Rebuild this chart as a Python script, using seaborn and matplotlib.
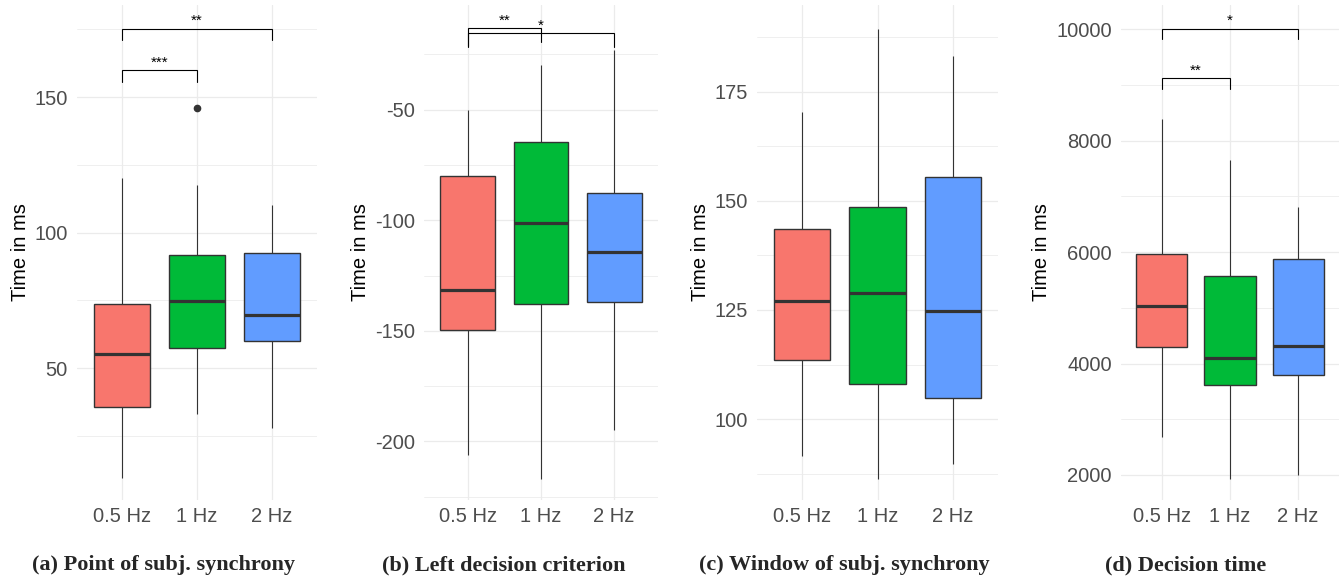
import numpy as np
import pandas as pd
import matplotlib
matplotlib.use("Agg")
import matplotlib.pyplot as plt
from matplotlib.ticker import MultipleLocator
import seaborn as sns

freqs = ["0.5 Hz", "1 Hz", "2 Hz"]
colors = ["#F8766D", "#00BA38", "#619CFF"]

# (a) point of subjective synchrony
pss_low = [9.4, 33.0, 27.9]
pss_q1 = [35.6, 57.4, 60.0]
pss_med = [55.2, 74.7, 69.6]
pss_q3 = [73.6, 91.7, 92.4]
pss_high = [120.0, 117.5, 110.0]
pss_out = [[], [146.0], []]

# (b) left decision criterion
ldc_low = [-206.0, -217.0, -194.7]
ldc_q1 = [-149.5, -138.0, -137.0]
ldc_med = [-131.4, -101.1, -114.6]
ldc_q3 = [-80.0, -64.7, -87.5]
ldc_high = [-50.0, -29.7, -23.0]
ldc_out = [[], [], []]

# (c) window of subjective synchrony
wss_low = [91.5, 86.4, 89.8]
wss_q1 = [113.5, 108.1, 104.8]
wss_med = [127.1, 128.9, 124.7]
wss_q3 = [143.6, 148.6, 155.4]
wss_high = [170.2, 189.4, 183.2]
wss_out = [[], [], []]

# (d) decision time
dt_low = [2682, 1930, 1996]
dt_q1 = [4291, 3619, 3799]
dt_med = [5041, 4092, 4316]
dt_q3 = [5968, 5573, 5873]
dt_high = [8386, 7655, 6804]
dt_out = [[], [], []]

# significance brackets: (group a, group b, bar y, tip y at a, tip y at b, label)
pss_sig = [(0, 1, 160.0, 155.5, 155.5, "***"), (0, 2, 175.3, 171.0, 171.0, "**")]
ldc_sig = [(0, 1, -13.3, -21.4, -19.4, "**"), (0, 2, -15.5, -21.9, -21.9, "*")]
wss_sig = []
dt_sig = [(0, 1, 9131, 8932, 8932, "**"), (0, 2, 10016, 9829, 9829, "*")]

captions = ["(a) Point of subj. synchrony", "(b) Left decision criterion",
            "(c) Window of subj. synchrony", "(d) Decision time"]


def to_long(low, q1, med, q3, high, out):
    rows = []
    for i, f in enumerate(freqs):
        if out[i]:
            vals = [low[i], q1[i], q1[i], med[i], med[i], q3[i], q3[i], high[i]] + out[i]
        else:
            vals = [low[i], q1[i], med[i], q3[i], high[i]]
        rows += [(f, v) for v in vals]
    return pd.DataFrame(rows, columns=["freq", "time"])


panels = [
    (to_long(pss_low, pss_q1, pss_med, pss_q3, pss_high, pss_out), pss_sig, (1.3, 184.0), 50),
    (to_long(ldc_low, ldc_q1, ldc_med, ldc_q3, ldc_high, ldc_out), ldc_sig, (-226.5, -2.7), 50),
    (to_long(wss_low, wss_q1, wss_med, wss_q3, wss_high, wss_out), wss_sig, (81.5, 194.8), 25),
    (to_long(dt_low, dt_q1, dt_med, dt_q3, dt_high, dt_out), dt_sig, (1551, 10438), 2000),
]

sns.set_theme(style="whitegrid")
plt.rcParams['font.family'] = ['Liberation Sans', 'DejaVu Sans']
plt.rcParams['axes.unicode_minus'] = False

W, H = 1343, 580
fig = plt.figure(figsize=(W / 100, H / 100), dpi=100)

# axes placement in pixels: (left, right)
ax_px = [(77, 317), (424, 658), (757, 998), (1121, 1339)]
cap_x = [163.5, 504, 844.5, 1185.5]
top_px, bot_px = 5, 500

for k, (df, sig, ylim, step) in enumerate(panels):
    l, r = ax_px[k]
    ax = fig.add_axes([l / W, 1 - bot_px / H, (r - l) / W, (bot_px - top_px) / H])
    sns.boxplot(data=df, x="freq", y="time", hue="freq", order=freqs,
                hue_order=freqs, palette=colors, saturation=1, width=0.75,
                linewidth=1.0, linecolor="#333333", legend=False, fliersize=4.5,
                showcaps=False,
                medianprops=dict(linewidth=2.3, color="#333333"),
                whiskerprops=dict(linewidth=0.8, color="#333333"),
                flierprops=dict(marker="o", markerfacecolor="#333333",
                                markeredgecolor="#333333"),
                ax=ax)
    for a, b, y, ta, tb, lab in sig:
        ax.plot([a, a, b, b], [ta, y, y, tb], color="black", lw=0.8,
                solid_joinstyle="miter", zorder=5)
        ax.annotate(lab, xy=((a + b) / 2, y), xytext=(0, 2.5),
                    textcoords="offset points", ha="center", va="baseline",
                    fontsize=11, color="black")
    ax.set_xlim(-0.6, 2.6)
    ax.set_ylim(*ylim)
    ax.yaxis.set_major_locator(MultipleLocator(step))
    ax.yaxis.set_minor_locator(MultipleLocator(step / 2))
    ax.grid(which="major", color="#EBEBEB", lw=0.9)
    ax.grid(which="minor", axis="y", color="#EBEBEB", lw=0.55)
    ax.set_axisbelow(True)
    for s in ax.spines.values():
        s.set_visible(False)
    ax.set_facecolor("white")
    ax.tick_params(axis="both", which="both", length=0, labelsize=14.5,
                   labelcolor="#4D4D4D")
    ax.tick_params(axis="y", pad=6.5)
    ax.tick_params(axis="x", pad=5)
    ax.set_xlabel("")
    ax.set_ylabel("Time in ms", fontsize=14.5, color="black", labelpad=3.6)
    fig.text(cap_x[k] / W, 1 - 565 / H, captions[k], ha="center", va="center",
             fontsize=16, fontweight="bold", family=["Liberation Serif", "DejaVu Serif"])

fig.savefig("out.png", dpi=100, facecolor="white")
